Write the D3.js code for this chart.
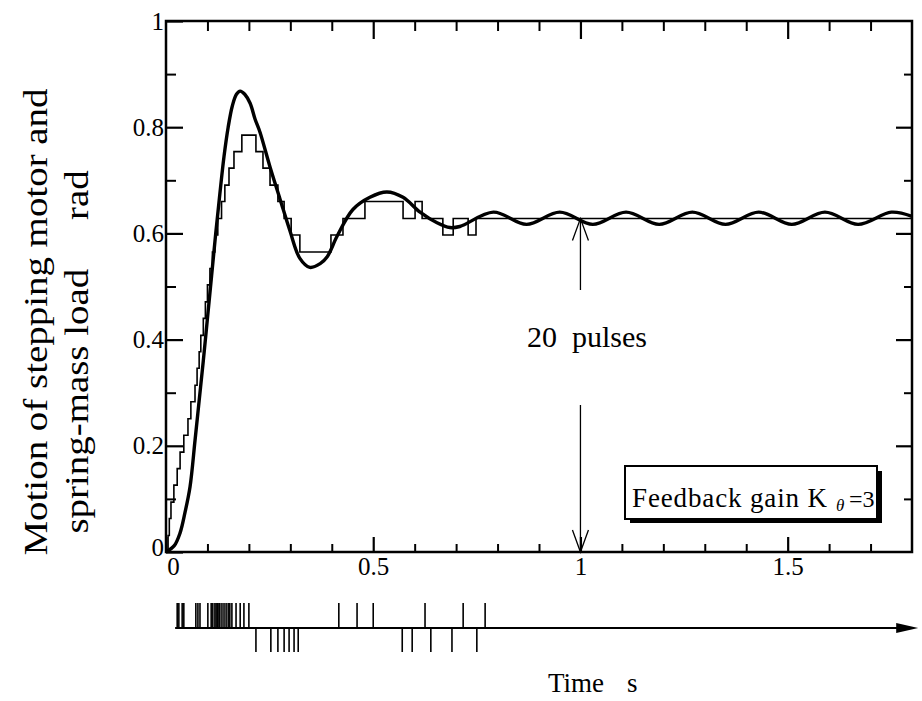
<!DOCTYPE html>
<html><head><meta charset="utf-8">
<script src="https://cdn.jsdelivr.net/npm/d3@7"></script>
<style>
body{margin:0;background:#fff}
svg{display:block}
svg text{font-family:"Liberation Serif",serif !important;fill:#000;white-space:pre}
</style>
</head><body>
<svg id="chart" width="922" height="701"></svg>
<script>
// ---- data ----
const xMajorTicks = [0, 0.5, 1, 1.5];
const xTickLabels = ["0", "0.5", "1", "1.5"];
const xMinorTicks = [0.1,0.2,0.3,0.4,0.6,0.7,0.8,0.9,1.1,1.2,1.3,1.4,1.6,1.7];
const yMajorTicks = [0, 0.2, 0.4, 0.6, 0.8, 1];
const yTickLabels = ["0", "0.2", "0.4", "0.6", "0.8", "1"];
const yMinorTicks = [0.1, 0.3, 0.5, 0.7, 0.9];

// spring-mass load (smooth, thick curve)
const loadTime  = [0, 0.02, 0.034, 0.046, 0.058, 0.07, 0.08, 0.09, 0.10, 0.11, 0.12, 0.13, 0.14, 0.15, 0.16, 0.17, 0.179, 0.19, 0.203, 0.215, 0.227, 0.251, 0.275, 0.299, 0.323, 0.347, 0.372, 0.389, 0.413, 0.451, 0.492, 0.533, 0.572, 0.613, 0.654, 0.685, 0.709, 0.79, 0.87, 0.95, 1.03, 1.11, 1.19, 1.27, 1.35, 1.43, 1.51, 1.59, 1.67, 1.75, 1.8];
const loadValue = [0, 0.012, 0.036, 0.075, 0.123, 0.21, 0.285, 0.36, 0.44, 0.52, 0.60, 0.675, 0.745, 0.80, 0.84, 0.862, 0.868, 0.862, 0.845, 0.815, 0.79, 0.725, 0.665, 0.605, 0.553, 0.536, 0.543, 0.556, 0.595, 0.645, 0.668, 0.678, 0.668, 0.64, 0.62, 0.611, 0.613, 0.640, 0.617, 0.640, 0.617, 0.640, 0.617, 0.640, 0.617, 0.640, 0.617, 0.640, 0.617, 0.640, 0.632];

// stepping motor (staircase, thin line): time at which each level starts, level in rad
const motorTime  = [0, 0.005, 0.008, 0.012, 0.019, 0.027, 0.034, 0.043, 0.053, 0.060, 0.070, 0.075, 0.080, 0.084, 0.090, 0.095, 0.100, 0.106, 0.112, 0.118, 0.125, 0.134, 0.142, 0.152, 0.164, 0.183, 0.217, 0.234, 0.251, 0.270, 0.285, 0.302, 0.323, 0.398, 0.427, 0.480, 0.572, 0.601, 0.618, 0.668, 0.693, 0.729, 0.748, 1.8];
const motorValue = [0, 0.031, 0.063, 0.094, 0.126, 0.157, 0.188, 0.220, 0.251, 0.283, 0.314, 0.346, 0.377, 0.408, 0.440, 0.471, 0.503, 0.534, 0.565, 0.597, 0.628, 0.660, 0.691, 0.723, 0.754, 0.785, 0.754, 0.723, 0.691, 0.660, 0.628, 0.597, 0.565, 0.597, 0.628, 0.660, 0.628, 0.660, 0.628, 0.597, 0.628, 0.597, 0.628, 0.628];

// pulse train below the plot (s)
const forwardPulses = [0.027, 0.031, 0.039, 0.043, 0.072, 0.077, 0.082, 0.101, 0.109, 0.113, 0.118, 0.121, 0.125, 0.128, 0.130, 0.135, 0.140, 0.145, 0.150, 0.154, 0.159, 0.169, 0.179, 0.188, 0.200, 0.417, 0.461, 0.500, 0.625, 0.717, 0.770];
const reversePulses = [0.217, 0.253, 0.270, 0.285, 0.297, 0.309, 0.319, 0.570, 0.594, 0.639, 0.690, 0.750];

const trainStart = 0.022;
const trainEnd = 1.815;
const targetTime = 1.0;
const targetValue = 0.628;

const SERIF = '"Liberation Serif", serif';

// ---- layout ----
const svg = d3.select("#chart");
const L = 166, R = 912, T = 21, B = 552;
const x = d3.scaleLinear().domain([0, 1.8]).range([L, R]);
const y = d3.scaleLinear().domain([0, 1]).range([B, T]);

// frame
svg.append("rect").attr("x", L).attr("y", T).attr("width", R - L).attr("height", B - T)
  .attr("fill", "none").attr("stroke", "#000").attr("stroke-width", 2.5);

function styleAxis(g, w) {
  g.attr("font-family", SERIF);
  g.select(".domain").remove();
  g.selectAll(".tick line").attr("stroke", "#000").attr("stroke-width", w);
  g.selectAll("text").style("font-family", SERIF).attr("font-size", 25).attr("fill", "#000");
}
// bottom axis
svg.append("g").attr("transform", `translate(0,${B})`)
  .call(d3.axisBottom(x).tickValues(xMajorTicks).tickSize(-15).tickPadding(3)
    .tickFormat((d, i) => xTickLabels[i]))
  .call(g => {
    styleAxis(g, 2.2);
    g.selectAll("text").attr("dy", "0.78em").attr("dx", d => d === 0 ? 7 : 0);
  });
svg.append("g").attr("transform", `translate(0,${B})`)
  .call(d3.axisBottom(x).tickValues(xMinorTicks).tickSize(-8).tickFormat(""))
  .call(g => styleAxis(g, 2));
// top axis
svg.append("g").attr("transform", `translate(0,${T})`)
  .call(d3.axisTop(x).tickValues(xMajorTicks.filter(d => d > 0)).tickSize(-18).tickFormat(""))
  .call(g => styleAxis(g, 2.2));
svg.append("g").attr("transform", `translate(0,${T})`)
  .call(d3.axisTop(x).tickValues(xMinorTicks).tickSize(-10).tickFormat(""))
  .call(g => styleAxis(g, 2));
// left axis
svg.append("g").attr("transform", `translate(${L},0)`)
  .call(d3.axisLeft(y).tickValues(yMajorTicks).tickSize(-17).tickPadding(2)
    .tickFormat((d, i) => yTickLabels[i]))
  .call(g => {
    styleAxis(g, 2.2);
    g.selectAll("text").attr("dy", d => d === 0 ? "0.15em" : "0.32em");
  });
svg.append("g").attr("transform", `translate(${L},0)`)
  .call(d3.axisLeft(y).tickValues(yMinorTicks).tickSize(-10).tickFormat(""))
  .call(g => styleAxis(g, 2));
// right axis
svg.append("g").attr("transform", `translate(${R},0)`)
  .call(d3.axisRight(y).tickValues(yMajorTicks.filter(d => d > 0 && d < 1)).tickSize(-16).tickFormat(""))
  .call(g => styleAxis(g, 2.2));
svg.append("g").attr("transform", `translate(${R},0)`)
  .call(d3.axisRight(y).tickValues(yMinorTicks).tickSize(-8).tickFormat(""))
  .call(g => styleAxis(g, 2));

// motor staircase
const motorData = motorTime.map((t, i) => [t, motorValue[i]]);
svg.append("path").datum(motorData)
  .attr("d", d3.line().x(d => x(d[0])).y(d => y(d[1])).curve(d3.curveStepAfter))
  .attr("fill", "none").attr("stroke", "#000").attr("stroke-width", 1.6);

// load curve
const loadData = loadTime.map((t, i) => [t, loadValue[i]]);
svg.append("path").datum(loadData)
  .attr("d", d3.line().x(d => x(d[0])).y(d => y(d[1])).curve(d3.curveCatmullRom.alpha(0.5)))
  .attr("fill", "none").attr("stroke", "#000").attr("stroke-width", 3.4).attr("stroke-linejoin", "round");

// 20 pulses arrow
const ax = x(targetTime);
svg.append("line").attr("x1", ax).attr("x2", ax).attr("y1", y(targetValue)).attr("y2", 290)
  .attr("stroke", "#000").attr("stroke-width", 1.3);
svg.append("line").attr("x1", ax).attr("x2", ax).attr("y1", 405).attr("y2", y(0))
  .attr("stroke", "#000").attr("stroke-width", 1.3);
svg.append("path").attr("d", `M${ax-8},${y(targetValue)+22}L${ax},${y(targetValue)}L${ax+8},${y(targetValue)+22}`)
  .attr("fill", "none").attr("stroke", "#000").attr("stroke-width", 1.3);
svg.append("path").attr("d", `M${ax-8},${y(0)-22}L${ax},${y(0)}L${ax+8},${y(0)-22}`)
  .attr("fill", "none").attr("stroke", "#000").attr("stroke-width", 1.3);
svg.append("text").attr("x", 527).attr("y", 347).attr("font-size", 30).text("20  pulses");

// legend box
svg.append("rect").attr("x", 630).attr("y", 471).attr("width", 252).attr("height", 52).attr("fill", "#000");
svg.append("rect").attr("x", 625).attr("y", 466).attr("width", 252).attr("height", 53)
  .attr("fill", "#fff").attr("stroke", "#000").attr("stroke-width", 2);
svg.append("text").attr("x", 632).attr("y", 507).attr("font-size", 27).attr("textLength", 195).text("Feedback gain K");
svg.append("text").attr("x", 836).attr("y", 511).attr("font-size", 17).attr("font-style", "italic").text("θ");
svg.append("text").attr("x", 849).attr("y", 507).attr("font-size", 24).text("=3");

// pulse train
const PY = 628;
svg.append("line").attr("x1", x(trainStart)).attr("x2", x(trainEnd) - 10).attr("y1", PY).attr("y2", PY)
  .attr("stroke", "#000").attr("stroke-width", 2);
svg.append("path").attr("d", `M${x(trainEnd)},${PY}L${x(trainEnd)-22},${PY-5}L${x(trainEnd)-22},${PY+5}Z`).attr("fill", "#000");
svg.append("g").selectAll("line").data(forwardPulses).join("line")
  .attr("x1", d => x(d)).attr("x2", d => x(d)).attr("y1", PY).attr("y2", PY - 25)
  .attr("stroke", "#000").attr("stroke-width", 1.6);
svg.append("g").selectAll("line").data(reversePulses).join("line")
  .attr("x1", d => x(d)).attr("x2", d => x(d)).attr("y1", PY).attr("y2", PY + 24)
  .attr("stroke", "#000").attr("stroke-width", 1.6);

// axis titles
svg.append("text").attr("x", 548).attr("y", 692).attr("font-size", 27).text("Time");
svg.append("text").attr("x", 627).attr("y", 692).attr("font-size", 27).text("s");
svg.append("text").attr("transform", "translate(47,322) rotate(-90) scale(1.18,1)").attr("text-anchor", "middle")
  .attr("font-size", 33).text("Motion of stepping motor and");
svg.append("text").attr("transform", "translate(88,352) rotate(-90) scale(1.18,1)").attr("text-anchor", "middle")
  .attr("font-size", 33).text("spring-mass load     rad");
</script>
</body></html>
